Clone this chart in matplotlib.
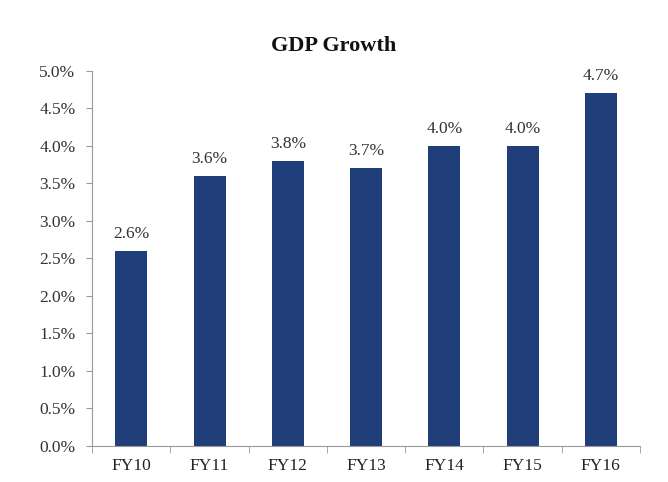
import matplotlib
matplotlib.use("Agg")
import matplotlib.pyplot as plt
import numpy as np

# data
years = ["FY10", "FY11", "FY12", "FY13", "FY14", "FY15", "FY16"]
growth = [2.6, 3.6, 3.8, 3.7, 4.0, 4.0, 4.7]
yticks = [0.0, 0.5, 1.0, 1.5, 2.0, 2.5, 3.0, 3.5, 4.0, 4.5, 5.0]

plt.rcParams['font.family'] = ['Liberation Serif', 'DejaVu Serif']

fig = plt.figure(figsize=(6.68, 4.82), dpi=100)
ax = fig.add_axes([0.138, 0.075, 0.82, 0.778])

x = np.arange(len(years))
ax.bar(x, growth, width=0.41, color="#1f3e7a")

for xi, v in zip(x, growth):
    ax.text(xi, v + 0.12, f"{v:.1f}%", ha="center", va="bottom",
            fontsize=12.5, color="#333333")

ax.set_xlim(-0.5, len(years) - 0.5)
ax.set_ylim(0, 5.0)
ax.set_yticks(yticks)
ax.set_yticklabels([f"{t:.1f}%" for t in yticks], fontsize=12.5, color="#333333")
ax.set_xticks(x)
ax.set_xticklabels(years, fontsize=12.5, color="#222222")

# category separators on the x axis
ax.set_xticks(np.arange(-0.5, len(years), 1.0), minor=True)
ax.tick_params(axis="x", which="major", length=0, pad=9)
ax.tick_params(axis="x", which="minor", length=5, color="#999999")
ax.tick_params(axis="y", length=4, color="#999999", pad=8)

for s in ["top", "right"]:
    ax.spines[s].set_visible(False)
ax.spines["left"].set_color("#999999")
ax.spines["bottom"].set_color("#999999")

fig.text(0.5, 0.905, "GDP Growth", ha="center", va="center",
         fontsize=16, fontweight="bold", color="#111111")

fig.savefig("out.png", dpi=100)
